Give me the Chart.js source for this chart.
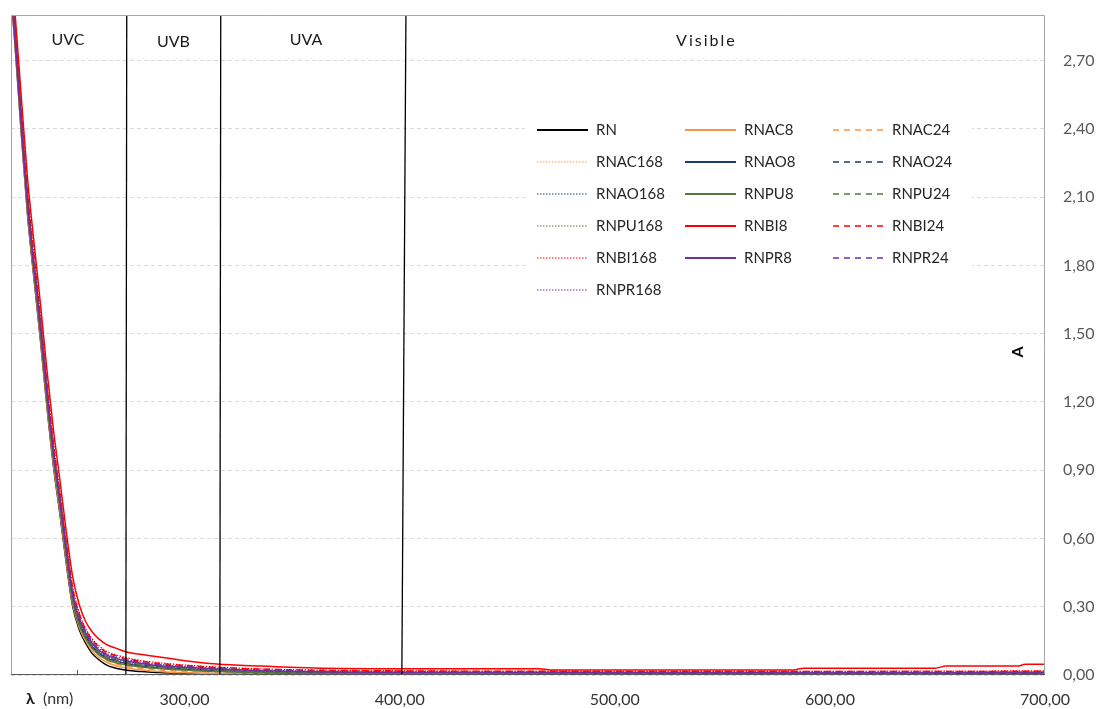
<!DOCTYPE html>
<html>
<head>
<meta charset="utf-8">
<script src="https://cdn.jsdelivr.net/npm/chart.js@4/dist/chart.umd.min.js"></script>
<style>
  html, body { margin: 0; padding: 0; background: #ffffff; }
  #wrap { width: 1099px; height: 709px; position: relative; }
</style>
</head>
<body>
<div id="wrap"><canvas id="chart" width="1099" height="709"></canvas></div>
<script>
// Wavelength grid (nm) shared by every spectrum
const wavelengths = [219, 221, 224, 227, 230, 233, 236, 239, 242, 245, 248, 251, 254, 257, 260, 264, 268, 273, 280, 290, 300, 315, 335, 360, 400, 465, 470, 500, 583, 588, 649, 654, 687, 691, 700];

// Absorbance spectra
const RN      = [3.02, 2.79, 2.39, 2.02, 1.74, 1.47, 1.18, 0.92, 0.71, 0.49, 0.30, 0.20, 0.14, 0.095, 0.068, 0.042, 0.030, 0.021, 0.015, 0.010, 0.008, 0.006, 0.005, 0.004, 0.004, 0.004, 0.004, 0.004, 0.004, 0.004, 0.004, 0.004, 0.005, 0.005, 0.005];
const RNAC8   = [3.03, 2.80, 2.40, 2.03, 1.75, 1.48, 1.19, 0.93, 0.72, 0.50, 0.31, 0.21, 0.15, 0.105, 0.078, 0.055, 0.041, 0.031, 0.022, 0.014, 0.010, 0.006, 0.003, 0.002, 0.002, 0.002, 0.002, 0.002, 0.002, 0.002, 0.002, 0.002, 0.002, 0.002, 0.002];
const RNAC24  = [3.05, 2.82, 2.42, 2.05, 1.77, 1.50, 1.21, 0.95, 0.74, 0.52, 0.32, 0.22, 0.16, 0.115, 0.088, 0.064, 0.050, 0.039, 0.029, 0.021, 0.016, 0.011, 0.008, 0.006, 0.005, 0.005, 0.005, 0.005, 0.004, 0.004, 0.004, 0.004, 0.004, 0.004, 0.004];
const RNAC168 = [3.06, 2.83, 2.43, 2.06, 1.78, 1.51, 1.22, 0.96, 0.75, 0.53, 0.33, 0.23, 0.165, 0.12, 0.093, 0.069, 0.055, 0.044, 0.034, 0.025, 0.020, 0.014, 0.010, 0.008, 0.007, 0.006, 0.006, 0.006, 0.006, 0.006, 0.006, 0.006, 0.006, 0.006, 0.006];
const RNAO8   = [3.06, 2.83, 2.43, 2.06, 1.78, 1.51, 1.22, 0.96, 0.75, 0.53, 0.33, 0.23, 0.17, 0.125, 0.097, 0.074, 0.061, 0.050, 0.040, 0.031, 0.025, 0.018, 0.012, 0.009, 0.007, 0.006, 0.006, 0.006, 0.006, 0.006, 0.006, 0.006, 0.006, 0.006, 0.006];
const RNAO24  = [3.08, 2.85, 2.45, 2.08, 1.80, 1.53, 1.24, 0.98, 0.76, 0.54, 0.34, 0.24, 0.175, 0.13, 0.10, 0.078, 0.065, 0.054, 0.044, 0.034, 0.028, 0.021, 0.015, 0.011, 0.009, 0.008, 0.008, 0.008, 0.008, 0.008, 0.008, 0.008, 0.008, 0.008, 0.008];
const RNAO168 = [3.08, 2.85, 2.45, 2.08, 1.80, 1.53, 1.24, 0.98, 0.76, 0.54, 0.34, 0.24, 0.178, 0.133, 0.103, 0.081, 0.068, 0.057, 0.046, 0.036, 0.030, 0.022, 0.016, 0.012, 0.010, 0.009, 0.009, 0.009, 0.010, 0.010, 0.011, 0.011, 0.013, 0.013, 0.014];
const RNPU8   = [3.05, 2.82, 2.42, 2.05, 1.77, 1.50, 1.21, 0.95, 0.74, 0.52, 0.32, 0.22, 0.16, 0.118, 0.090, 0.067, 0.054, 0.044, 0.035, 0.027, 0.022, 0.015, 0.010, 0.007, 0.005, 0.004, 0.004, 0.003, 0.003, 0.003, 0.002, 0.002, 0.002, 0.002, 0.002];
const RNPU24  = [3.07, 2.84, 2.44, 2.07, 1.79, 1.52, 1.23, 0.97, 0.76, 0.54, 0.34, 0.24, 0.175, 0.13, 0.10, 0.077, 0.064, 0.053, 0.043, 0.033, 0.027, 0.020, 0.014, 0.010, 0.008, 0.007, 0.007, 0.007, 0.007, 0.007, 0.007, 0.007, 0.007, 0.007, 0.007];
const RNPU168 = [3.08, 2.85, 2.45, 2.08, 1.80, 1.53, 1.24, 0.98, 0.77, 0.55, 0.35, 0.245, 0.18, 0.135, 0.105, 0.082, 0.069, 0.058, 0.047, 0.037, 0.031, 0.023, 0.017, 0.013, 0.011, 0.010, 0.010, 0.010, 0.010, 0.010, 0.011, 0.011, 0.012, 0.012, 0.012];
const RNBI8   = [3.15, 2.93, 2.55, 2.18, 1.90, 1.63, 1.34, 1.08, 0.86, 0.63, 0.43, 0.31, 0.235, 0.19, 0.16, 0.132, 0.118, 0.101, 0.090, 0.077, 0.063, 0.048, 0.039, 0.031, 0.028, 0.028, 0.022, 0.022, 0.022, 0.030, 0.030, 0.039, 0.039, 0.047, 0.047];
const RNBI24  = [3.11, 2.88, 2.49, 2.12, 1.84, 1.57, 1.28, 1.02, 0.80, 0.58, 0.38, 0.27, 0.20, 0.155, 0.125, 0.098, 0.085, 0.072, 0.060, 0.049, 0.042, 0.033, 0.026, 0.021, 0.018, 0.016, 0.016, 0.015, 0.015, 0.015, 0.015, 0.015, 0.016, 0.016, 0.016];
const RNBI168 = [3.12, 2.89, 2.50, 2.13, 1.85, 1.58, 1.29, 1.03, 0.81, 0.59, 0.39, 0.275, 0.205, 0.16, 0.13, 0.103, 0.089, 0.076, 0.063, 0.052, 0.044, 0.035, 0.027, 0.022, 0.019, 0.017, 0.017, 0.016, 0.016, 0.016, 0.017, 0.017, 0.018, 0.018, 0.018];
const RNPR8   = [3.04, 2.82, 2.43, 2.07, 1.79, 1.53, 1.24, 0.98, 0.77, 0.55, 0.35, 0.25, 0.185, 0.14, 0.11, 0.086, 0.073, 0.062, 0.051, 0.040, 0.034, 0.026, 0.019, 0.014, 0.012, 0.011, 0.011, 0.010, 0.010, 0.010, 0.010, 0.010, 0.010, 0.010, 0.010];
const RNPR24  = [3.05, 2.83, 2.44, 2.08, 1.80, 1.54, 1.25, 0.99, 0.78, 0.56, 0.36, 0.255, 0.19, 0.145, 0.115, 0.090, 0.077, 0.066, 0.054, 0.043, 0.037, 0.028, 0.021, 0.016, 0.014, 0.013, 0.013, 0.012, 0.012, 0.012, 0.012, 0.012, 0.012, 0.012, 0.012];
const RNPR168 = [3.06, 2.84, 2.45, 2.09, 1.81, 1.55, 1.26, 1.00, 0.79, 0.57, 0.37, 0.26, 0.195, 0.15, 0.118, 0.093, 0.080, 0.068, 0.056, 0.045, 0.038, 0.029, 0.022, 0.017, 0.015, 0.014, 0.014, 0.013, 0.013, 0.013, 0.013, 0.013, 0.014, 0.014, 0.014];

// Axis ticks
const xTickValues = [300, 400, 500, 600, 700];
const yTickValues = [0, 0.3, 0.6, 0.9, 1.2, 1.5, 1.8, 2.1, 2.4, 2.7];
const xMinorTicks = [250];

// Spectral bands: boundary lines (nm at top / bottom of the plot) and band names
const bandLinesTop    = [273.1, 316.8, 402.9];
const bandLinesBottom = [272.7, 316.4, 401.0];
const bandNames  = ['UVC', 'UVB', 'UVA', 'Visible'];
const bandLabelX = [245.8, 294.8, 356.5, 542.6];
const bandLabelY = [2.792, 2.780, 2.792, 2.785];

const COLORS = {
  black: '#000000', orange: '#F79646', navy: '#1F3A6E',
  green: '#58773F', red: '#FF0000', purple: '#7030A0'
};
const SOLID = [], DASHED = [6, 5], DOTTED = [1.5, 1.5];

const series = [
  ['RN', RN, COLORS.black, SOLID],
  ['RNAC8', RNAC8, COLORS.orange, SOLID],
  ['RNAC24', RNAC24, COLORS.orange, DASHED],
  ['RNAC168', RNAC168, COLORS.orange, DOTTED],
  ['RNAO8', RNAO8, COLORS.navy, SOLID],
  ['RNAO24', RNAO24, COLORS.navy, DASHED],
  ['RNAO168', RNAO168, COLORS.navy, DOTTED],
  ['RNPU8', RNPU8, COLORS.green, SOLID],
  ['RNPU24', RNPU24, COLORS.green, DASHED],
  ['RNPU168', RNPU168, COLORS.green, DOTTED],
  ['RNBI8', RNBI8, COLORS.red, SOLID],
  ['RNBI24', RNBI24, COLORS.red, DASHED],
  ['RNBI168', RNBI168, COLORS.red, DOTTED],
  ['RNPR8', RNPR8, COLORS.purple, SOLID],
  ['RNPR24', RNPR24, COLORS.purple, DASHED],
  ['RNPR168', RNPR168, COLORS.purple, DOTTED]
];

const FONT = 'Lato, "Open Sans", "DejaVu Sans", sans-serif';
const fmt = v => Number(v).toFixed(2).replace('.', ',');

const datasets = series.map(([name, values, color, dash], i) => ({
  label: name,
  data: wavelengths.map((w, k) => ({ x: w, y: values[k] })),
  borderColor: color,
  borderDash: dash,
  borderWidth: dash === DOTTED ? 1.2 : 1.5,
  pointRadius: 0,
  fill: false,
  cubicInterpolationMode: 'monotone',
  order: series.length - i
}));

// Legend box, band markers, axis captions and frame
const decorations = {
  id: 'decorations',
  beforeDatasetsDraw(chart) {
    const ctx = chart.ctx;
    ctx.save();
    ctx.fillStyle = '#ffffff';
    ctx.fillRect(525, 108, 447, 198);
    ctx.restore();
  },
  afterDatasetsDraw(chart) {
    const ctx = chart.ctx;
    const xs = chart.scales.x, ys = chart.scales.y;
    const a = chart.chartArea;
    ctx.save();

    // band boundaries
    ctx.strokeStyle = '#000000';
    ctx.lineWidth = 1.3;
    ctx.setLineDash([]);
    bandLinesTop.forEach((t, i) => {
      ctx.beginPath();
      ctx.moveTo(xs.getPixelForValue(t), a.top);
      ctx.lineTo(xs.getPixelForValue(bandLinesBottom[i]), a.bottom);
      ctx.stroke();
    });

    // band names
    ctx.fillStyle = '#1a1a1a';
    ctx.font = '16px ' + FONT;
    ctx.textAlign = 'center';
    ctx.textBaseline = 'middle';
    bandNames.forEach((name, i) => {
      ctx.letterSpacing = name === 'Visible' ? '2px' : '0px';
      ctx.fillText(name, xs.getPixelForValue(bandLabelX[i]), ys.getPixelForValue(bandLabelY[i]));
    });
    ctx.letterSpacing = '0px';

    // frame
    ctx.lineWidth = 1;
    ctx.strokeStyle = '#a6a6a6';
    ctx.beginPath();
    ctx.moveTo(a.left + 0.5, a.bottom);
    ctx.lineTo(a.left + 0.5, a.top + 0.5);
    ctx.lineTo(a.right - 0.5, a.top + 0.5);
    ctx.lineTo(a.right - 0.5, a.bottom);
    ctx.stroke();
    ctx.strokeStyle = '#595959';
    ctx.beginPath();
    ctx.moveTo(a.left, a.bottom - 0.5);
    ctx.lineTo(a.right, a.bottom - 0.5);
    ctx.stroke();
    xMinorTicks.forEach(v => {
      const px = Math.round(xs.getPixelForValue(v)) + 0.5;
      ctx.beginPath();
      ctx.moveTo(px, a.bottom);
      ctx.lineTo(px, a.bottom - 5);
      ctx.stroke();
    });

    // axis captions
    ctx.fillStyle = '#1a1a1a';
    ctx.textAlign = 'left';
    ctx.textBaseline = 'middle';
    ctx.font = 'bold 16px ' + FONT;
    ctx.fillText('λ', 26, 699);
    ctx.font = '16px ' + FONT;
    ctx.fillStyle = '#333333';
    ctx.fillText('(nm)', 43, 699);

    ctx.save();
    ctx.translate(1018, 352);
    ctx.rotate(-Math.PI / 2);
    ctx.font = 'bold 16px ' + FONT;
    ctx.fillStyle = '#000000';
    ctx.textAlign = 'center';
    ctx.fillText('A', 0, 0);
    ctx.restore();

    // legend, three columns, row-major
    const colX = [537, 685, 833];
    chart.data.datasets.forEach((ds, i) => {
      const row = Math.floor(i / 3), col = i % 3;
      const y = 130 + row * 32;
      const x0 = colX[col];
      ctx.strokeStyle = ds.borderColor;
      ctx.lineWidth = ds.borderDash.length === 0 ? 2 : (ds.borderDash === DOTTED ? 1.2 : 1.6);
      ctx.setLineDash(ds.borderDash);
      ctx.beginPath();
      ctx.moveTo(x0, y);
      ctx.lineTo(x0 + 51, y);
      ctx.stroke();
      ctx.setLineDash([]);
      ctx.fillStyle = '#262626';
      ctx.font = '15px ' + FONT;
      ctx.textAlign = 'left';
      ctx.textBaseline = 'middle';
      ctx.fillText(ds.label, x0 + 59, y);
    });

    ctx.restore();
  }
};

new Chart(document.getElementById('chart'), {
  type: 'line',
  data: { datasets },
  plugins: [decorations],
  options: {
    responsive: false,
    animation: false,
    devicePixelRatio: 1,
    layout: { padding: { left: 11, top: 15, right: 0, bottom: 0 } },
    plugins: { legend: { display: false }, tooltip: { enabled: false } },
    scales: {
      x: {
        type: 'linear',
        min: 219.3,
        max: 700,
        afterBuildTicks: s => { s.ticks = xTickValues.map(v => ({ value: v })); },
        afterFit: s => { s.height = 34; s.paddingLeft = 0; s.paddingRight = 0; },
        grid: { display: false },
        border: { display: false },
        ticks: {
          autoSkip: false, maxRotation: 0, padding: 7,
          color: '#333333', font: { family: FONT, size: 16 },
          callback: v => fmt(v)
        }
      },
      y: {
        type: 'linear',
        position: 'right',
        min: 0,
        max: 2.9,
        afterBuildTicks: s => { s.ticks = yTickValues.map(v => ({ value: v })); },
        afterFit: s => { s.width = 54; s.paddingTop = 0; s.paddingBottom = 0; },
        grid: { color: '#d9d9d9', lineWidth: 1, drawTicks: false },
        border: { display: false, dash: [4, 3] },
        ticks: {
          padding: 18,
          color: '#595959', font: { family: FONT, size: 16 },
          callback: v => fmt(v)
        }
      }
    }
  }
});
</script>
</body>
</html>
